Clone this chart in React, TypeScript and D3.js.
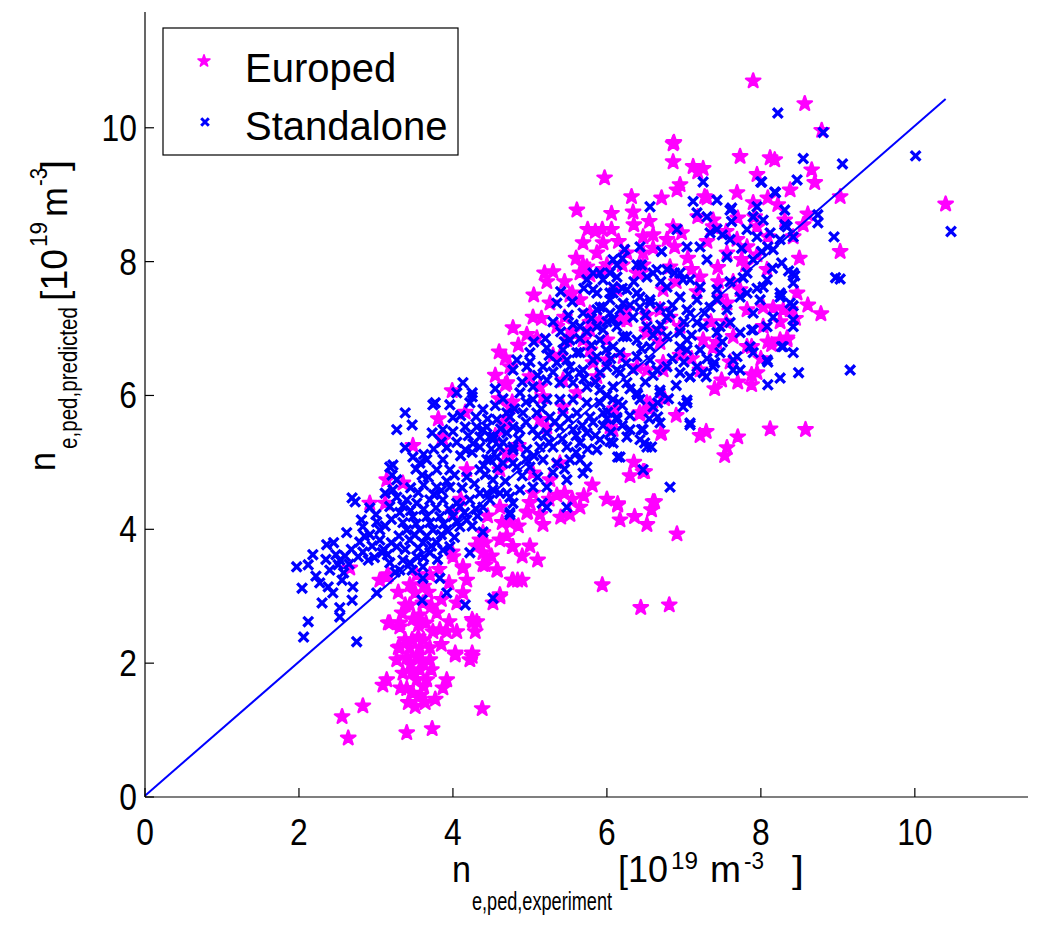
import React from "react";
import * as d3 from "d3";

const europed: [number, number][] = [
  [7.90,10.70],[8.57,10.36],[8.79,9.96],[10.40,8.86],[8.12,9.55],[7.73,9.57],[6.87,9.78],[5.97,9.25],
  [7.49,6.23],[7.88,6.31],[7.88,6.16],[8.12,5.50],[8.58,5.49],[7.70,5.38],[7.56,5.22],[7.53,5.10],[7.21,5.40],[7.29,5.46],[6.70,5.43],[6.56,5.87],[6.42,5.72],[6.04,5.53],[6.47,4.86],[6.14,4.38],[6.17,4.14],[6.36,4.19],[6.52,4.07],[6.58,4.29],[6.62,4.41],[6.91,3.93],[5.94,3.17],[6.44,2.83],[6.81,2.87],
  [2.56,1.20],[2.64,0.88],[2.83,1.36],[3.09,1.67],[3.14,1.75],[3.32,1.63],[3.40,0.96],[3.73,1.02],[4.38,1.32],[3.42,1.41],[3.51,1.35],[3.64,1.41],[3.77,1.46],[3.48,1.55],[3.87,1.63],[3.92,1.75],[3.66,1.75],[3.53,1.75],[3.35,1.85],[3.47,1.87],[3.57,1.90],[3.27,2.05],[3.40,2.08],[3.53,2.10],[3.70,2.05],[3.29,2.23],[3.44,2.23],[3.57,2.23],[3.70,2.23],[4.03,2.12],[4.25,2.10],[4.22,2.05],[3.47,2.35],[3.55,2.39],[3.74,2.47],[3.83,2.50],[3.92,2.47],[4.05,2.47],[4.29,2.47],[4.31,2.62],[4.25,2.65],[3.16,2.60],[3.31,2.54],[3.34,2.75],[3.55,2.57],[3.57,2.72],[3.44,2.87],[3.51,3.05],[3.61,2.90],[3.68,3.06],[3.79,2.75],[4.05,2.90],[4.13,3.05],[4.18,3.24],[4.13,3.42],[4.39,3.47],[4.57,3.39],[4.77,3.24],[4.84,3.24],[4.61,2.99],[4.52,2.90],[3.29,3.06],[3.16,3.32],[3.44,3.17],[3.53,3.32],[3.70,3.32],[3.38,2.87],
  [3.05,3.24],[3.14,3.29],[3.18,2.60],[3.31,2.60],[3.31,2.24],[4.00,3.59],[3.99,3.66],[4.13,3.44],[4.35,3.84],[4.39,3.65],[4.42,3.47],[4.58,3.39],[4.64,4.10],[4.78,3.74],[4.78,3.24],[4.74,4.10],[2.66,3.42],[2.92,4.39],[3.14,4.74],[3.48,5.25],[3.81,5.65],[3.99,6.07],[4.16,5.75],[3.86,5.37],[4.70,6.19],[4.77,5.90],[4.70,5.59],[4.74,5.08],[4.61,4.89],[4.18,4.89],[4.00,4.25],[3.35,4.69],[3.12,4.39],
  [5.19,7.83],[5.22,7.70],[5.69,7.95],[5.78,7.80],[6.00,7.95],[6.39,7.83],[6.47,7.95],[5.52,7.50],[5.65,7.43],[5.26,7.38],[5.04,7.17],[4.78,7.01],[4.96,6.91],[5.09,6.86],[5.35,7.03],[5.48,6.83],[5.69,6.83],[5.78,7.09],[5.91,7.13],[6.17,7.13],[6.26,7.28],[6.52,6.98],[6.69,7.28],[6.82,7.17],[6.95,7.03],[4.68,6.56],[4.74,6.43],[4.68,6.16],[5.00,6.28],[5.13,6.13],[5.43,6.23],[5.87,6.28],[5.17,5.98],[4.74,5.83],[4.65,5.59],[5.22,5.53],[6.08,5.49],[6.43,5.74],[6.56,5.79],[6.52,5.89],[6.71,5.44],[4.70,5.14],[5.04,4.84],[5.26,4.74],[5.39,4.99],[5.04,4.54],[5.35,4.51],[5.45,4.54],[5.81,4.66],[5.65,4.33],[4.97,4.26],[5.52,4.22],[6.14,4.36],[6.60,4.41],[6.49,4.86],[4.61,4.33],
  [6.86,9.76],[8.18,9.52],[6.86,9.49],[7.12,9.42],[7.18,9.34],[7.95,9.30],[8.38,9.07],[6.95,9.15],[6.91,9.07],[7.69,9.03],[8.09,8.95],[8.22,8.85],[7.90,8.88],[7.30,8.95],[6.71,8.95],[6.32,8.97],[5.61,8.77],[6.06,8.72],[6.34,8.74],[7.18,8.67],[7.38,8.62],[7.70,8.65],[7.95,8.52],[5.75,8.48],[5.94,8.48],[6.06,8.48],[5.69,8.28],[5.95,8.28],[6.47,8.37],[6.60,8.40],[6.78,8.33],[6.86,8.52],[6.97,8.43],[7.38,8.52],[8.09,8.37],[6.88,8.22],[5.87,8.13],[6.26,8.13],[6.47,8.13],[5.74,7.92],[5.95,7.88],[6.82,7.92],[7.10,7.88],[7.44,7.91],[7.56,8.13],[7.75,8.03],[8.08,7.88],[5.65,7.83],[6.43,7.83],[7.21,7.77],[5.55,7.53],[6.13,7.58],[6.73,7.58],[7.17,7.55],[7.47,7.47],[7.73,7.58],[5.45,7.17],[5.78,7.23],[6.26,7.13],[6.52,7.20],[7.56,7.38],[7.82,7.28],[8.03,7.32],[8.16,7.31],[8.29,7.28],[8.38,7.28],[8.25,6.83],[8.09,6.80],[7.82,6.73],[7.25,6.83],[7.38,6.71],[6.69,6.98],[5.78,6.98],[6.00,6.83],[5.78,6.68],[6.69,6.79],[7.60,6.50],[7.95,6.34],[6.21,6.58],[6.39,6.43],[6.52,6.38],[6.73,6.38],[7.21,6.38],
  [8.66,9.37],[8.70,9.18],[9.03,8.97],[8.61,8.71],[8.31,8.62],[8.42,8.37],[9.03,8.15],[8.47,7.53],[8.61,7.35],[8.78,7.22],[8.03,7.03],[8.34,6.86],[8.14,6.76],[7.25,9.39],[7.27,8.97],[7.64,7.70],[7.69,8.33],[7.82,8.22],[7.92,8.67],
  [4.96,4.25],[5.13,4.22],[5.17,4.07],[4.39,3.95],[4.42,3.80],[4.61,3.84],[4.77,3.74],[5.10,3.54],[4.90,3.24],[4.61,3.02],[4.26,2.62],[4.25,2.15],[4.03,2.15],
  [3.87,5.34],[6.52,6.94],[6.73,6.49],[6.00,6.53],[7.43,6.79],[7.64,6.88],[8.34,6.83],[7.88,6.73],
  [5.39,6.58],[5.82,6.49],[5.61,6.04],[5.43,5.83],[5.13,5.64],
  [3.40,1.62],[3.58,1.52],[3.62,1.65],[3.72,1.90],[3.45,1.98],[3.60,2.02],[3.38,2.35],[3.62,2.35],[3.85,2.28],[3.95,2.62],[3.65,2.60],[3.48,2.66],[3.72,2.85],[3.85,2.95],[3.95,3.20],[3.82,3.40],[3.62,3.15],
  [5.05,7.50],[5.30,7.85],[5.45,7.70],[5.60,8.05],[5.85,8.45],[6.15,8.30],[6.35,8.55],[6.55,8.60],[6.20,7.95],[6.60,8.20],[6.90,7.70],[7.05,8.05],[7.30,8.30],[7.55,8.45],[7.45,7.70],[7.80,7.95],[7.95,8.10],[6.95,6.60],[7.10,6.55],[5.55,6.95],[5.30,6.60],[5.15,7.15],[4.85,6.75],[4.60,6.65],[4.55,6.30],[4.60,5.95],[4.55,5.40],[4.85,5.25],[5.00,4.40],[5.25,4.45],[5.55,4.45],[5.40,4.18],[5.70,4.50],[6.00,4.45],[6.30,4.80],[6.35,5.00],[6.10,5.80],[6.90,5.70],[6.75,5.95],[7.40,6.10],[7.70,6.20],[8.00,6.55],[7.35,7.10],[7.55,7.10],[8.25,7.10],[8.45,7.15],[8.50,8.05],[8.55,8.55],[4.10,4.45],[4.45,4.20],[4.30,3.75],[4.50,3.60],[4.70,3.90],[4.90,3.60],[5.00,3.75],[4.85,4.05],
];

const standalone: [number, number][] = [
  [1.97,3.44],[2.12,3.47],[2.04,3.12],[2.12,2.62],[2.06,2.39],[2.30,2.90],[2.27,3.20],[2.36,3.77],[2.45,3.80],[2.62,3.95],[2.40,3.39],[2.51,3.47],[2.53,3.54],[2.38,3.14],[2.44,3.05],[2.56,3.24],[2.70,3.14],[2.69,2.94],[2.53,2.83],[2.53,2.69],[2.75,2.32],[2.79,3.81],[2.83,3.66],[2.90,3.54],[3.08,3.65],[2.77,3.59],[2.83,4.04],[2.81,4.14],[2.92,3.92],[3.05,3.84],[2.92,4.32],[3.01,4.11],[2.69,4.47],[2.73,4.41],[3.18,4.34],[3.27,4.48],[3.22,4.59],[3.12,4.54],[3.21,4.81],[3.22,4.96],[3.38,5.74],[3.27,5.49],[3.47,5.56],[3.38,5.22],[3.48,5.08],[3.57,4.99],[3.66,5.04],[3.60,4.81],[3.68,4.78],[3.74,5.86],[3.73,5.44],[3.96,5.86],[4.13,6.19],[4.05,6.04],[4.25,6.04],[4.22,5.89],[4.00,5.67],[3.87,5.49],[4.00,5.46],[4.16,5.53],[4.31,5.53],[4.39,5.49],[4.48,5.38],[4.16,5.19],[4.35,5.23],[3.92,5.22],[3.87,5.04],[3.96,4.89],[3.79,4.89],[3.79,4.63],[3.96,4.63],[4.18,4.78],[4.35,4.89],[4.44,5.04],[4.57,5.08],[4.52,4.74],[4.35,4.54],[4.22,4.44],[4.05,4.39],[3.87,4.44],[3.70,4.44],[3.53,4.39],[3.40,4.44],[3.31,4.25],[3.48,4.19],[3.66,4.19],[3.83,4.19],[4.00,4.19],[4.18,4.14],[4.09,4.04],[3.92,3.99],[3.74,3.99],[3.57,3.99],[3.40,3.99],[3.44,3.84],[3.61,3.80],[3.79,3.80],[3.96,3.74],[3.27,3.74],[3.35,3.54],[3.53,3.59],[3.70,3.65],[3.87,3.69],[3.61,3.44],[3.47,3.39],[3.61,3.27],[3.83,3.27],[3.92,3.05],[3.60,2.94],[4.16,2.87],[4.22,3.65],[4.39,3.96],[4.74,4.22],[4.52,2.97],[4.09,4.34],[4.26,5.28],[4.39,5.79],[4.52,5.34],[4.70,5.74],[4.78,5.53],[4.78,5.23],[4.78,4.99],[4.61,4.54],[4.74,4.48],[4.48,4.44],[3.27,4.74],[3.05,3.99],[3.18,3.50],[3.31,3.39],
  [3.77,5.89],[4.25,5.98],[3.18,4.93],[3.01,3.05],[3.25,3.36],[5.16,4.39],
  [5.82,7.83],[5.91,7.83],[6.13,7.95],[6.60,7.83],[6.78,7.88],[6.95,7.83],[7.08,7.73],[6.08,7.62],[6.26,7.58],[6.43,7.47],[6.56,7.38],[6.04,7.43],[5.87,7.53],[5.69,7.23],[5.87,7.28],[6.17,7.28],[5.35,7.38],[6.08,7.14],[6.34,7.17],[6.78,7.17],[7.04,7.28],[7.17,7.09],[6.65,6.98],[6.78,6.88],[6.95,6.94],[5.30,7.10],[5.56,7.06],[5.74,6.95],[5.95,6.98],[6.21,6.88],[6.39,6.83],[6.56,6.73],[6.95,6.73],[7.04,6.68],[6.78,6.43],[7.17,6.43],[7.08,6.28],[6.65,6.38],[6.56,6.53],[6.39,6.58],[6.17,6.64],[5.99,6.68],[5.87,6.58],[5.61,6.64],[5.43,6.68],[5.22,6.71],[5.00,6.64],[4.83,6.53],[4.78,6.38],[4.96,6.43],[5.17,6.43],[5.35,6.49],[5.52,6.43],[5.69,6.38],[5.91,6.34],[6.13,6.38],[6.34,6.38],[6.26,6.19],[6.08,6.13],[5.91,6.08],[5.74,6.13],[5.56,6.19],[5.39,6.19],[5.22,6.23],[5.04,6.13],[4.87,6.04],[5.04,5.94],[5.22,5.94],[5.39,5.94],[5.56,5.94],[5.74,5.89],[5.91,5.89],[6.08,5.94],[6.39,6.04],[6.43,5.94],[6.69,6.04],[6.60,5.83],[6.69,5.59],[7.04,5.89],[7.08,5.59],[6.30,5.49],[6.47,5.49],[6.13,5.64],[5.95,5.74],[5.78,5.68],[5.61,5.74],[5.43,5.74],[5.26,5.68],[5.09,5.74],[4.91,5.74],[4.74,5.68],[4.57,5.64],[4.44,5.53],[4.52,5.38],[4.70,5.44],[4.87,5.49],[5.04,5.49],[5.22,5.44],[5.39,5.53],[5.56,5.49],[5.74,5.44],[5.91,5.34],[6.08,5.29],[6.26,5.38],[6.43,5.34],[6.52,5.23],[6.17,5.08],[5.87,5.19],[5.65,5.29],[5.65,5.04],[5.48,5.23],[5.30,5.23],[5.13,5.23],[4.96,5.19],[4.78,5.19],[4.61,5.23],[4.48,5.04],[4.65,4.99],[4.83,4.93],[5.00,4.93],[5.17,5.04],[5.35,4.99],[5.52,5.04],[5.74,4.93],[5.69,4.84],[5.48,4.74],[5.22,4.63],[5.04,4.63],[4.87,4.59],[4.70,4.54],[4.52,4.59],[4.44,4.54],[4.39,4.33],[4.78,4.39],[5.22,4.33],[5.48,4.33],[6.47,4.89],[6.82,4.63],[4.74,4.25],
  [7.25,9.19],[8.01,9.19],[8.18,9.04],[8.47,9.22],[6.56,8.82],[7.12,8.90],[7.43,8.92],[7.17,8.73],[7.30,8.67],[7.60,8.77],[7.62,8.60],[7.90,8.67],[8.03,8.62],[8.34,8.52],[6.91,8.48],[7.43,8.48],[7.82,8.48],[6.23,8.18],[6.43,8.22],[6.71,8.15],[7.04,8.22],[7.21,8.22],[7.34,8.43],[7.60,8.33],[7.95,8.37],[8.09,8.22],[8.25,8.33],[8.42,8.37],[6.08,8.03],[6.39,7.95],[6.65,7.88],[6.88,7.83],[7.30,8.03],[7.56,8.07],[7.90,8.03],[8.27,7.98],[8.42,7.83],[8.08,7.73],[7.82,7.83],[5.95,7.73],[6.13,7.77],[6.52,7.77],[6.78,7.62],[6.99,7.73],[7.21,7.62],[7.43,7.58],[7.73,7.47],[8.03,7.62],[8.25,7.53],[8.42,7.68],[5.74,7.73],[6.04,7.53],[6.39,7.53],[6.56,7.43],[6.95,7.47],[7.17,7.43],[7.34,7.32],[7.56,7.28],[7.90,7.23],[8.16,7.17],[8.38,7.38],[5.95,7.32],[6.21,7.38],[6.43,7.32],[6.69,7.32],[6.82,7.23],[7.08,7.23],[7.25,7.03],[7.43,6.94],[7.73,6.94],[7.90,6.98],[8.08,7.03],[8.42,7.13],[6.52,7.03],[6.26,6.88],[7.04,6.83],[7.21,6.68],[7.47,6.64],[7.69,6.58],[7.90,6.64],[8.08,6.53],[8.42,6.64],[7.64,6.38],[7.25,6.34],[6.95,6.34],[7.38,6.43],
  [6.04,7.83],[5.82,7.58],[6.08,7.53],[5.91,7.32],[6.04,7.23],[5.87,7.03],[6.13,7.03],[5.65,7.03],[5.52,6.83],[5.91,6.83],[6.08,6.73],[5.65,6.64],[5.82,6.53],[5.48,6.53],[6.00,6.43],[5.65,6.34],[6.17,6.34],
  [9.16,6.38],[8.49,6.34],[8.25,6.26],[8.09,6.16],[8.09,6.50],[7.73,6.38],[7.64,6.53],[7.40,6.49],[7.29,6.28],[7.08,6.28],[7.04,5.93],[6.99,5.83],[7.08,5.56],[6.69,6.08],[6.66,5.89],[6.66,5.68],[6.40,6.01],[6.45,5.49],[6.49,5.29],[6.58,5.23],[6.13,5.67],[6.01,5.75],[6.04,5.31],[6.14,5.08],[7.86,6.73],[8.27,6.73],
  [8.22,10.22],[8.81,9.93],[8.55,9.54],[9.06,9.46],[10.01,9.58],[8.00,9.19],[8.19,9.03],[8.31,8.55],[8.74,8.70],[8.74,8.58],[8.95,8.37],[8.97,7.76],[9.03,7.74],[8.36,7.86],[8.44,7.79],[8.27,7.49],[8.42,7.34],[8.42,7.03],[8.29,6.73],
  [10.47,8.45],[8.16,8.18],[7.77,7.76],[8.01,8.15],[8.12,8.43],[8.31,8.77],[7.95,8.82],[7.62,8.80],[7.99,7.43],[8.25,7.47],[7.82,7.53],[7.60,7.09],[7.43,7.43],[7.27,7.23],[7.47,7.03],[7.88,6.98],
  [3.45,4.62],[3.55,4.55],[3.62,4.66],[3.75,4.52],[3.85,4.58],[3.92,4.72],[4.02,4.81],[4.12,4.62],[4.28,4.68],[4.42,4.82],[4.58,4.92],[4.68,4.72],[4.30,4.30],[4.15,4.25],[3.95,4.30],[3.78,4.32],[3.62,4.30],[3.45,4.28],[3.35,4.10],[3.52,4.08],[3.70,4.10],[3.88,4.08],[4.05,4.12],[4.25,4.05],[4.32,4.20],[3.30,3.90],[3.50,3.92],[3.66,3.90],[3.85,3.92],[4.02,3.88],[3.20,3.80],[3.38,3.70],[3.55,3.72],[3.72,3.75],[3.10,3.70],[2.98,3.58],[3.15,3.62],[3.44,3.50],[3.62,3.58],[3.80,3.55],[2.95,3.75],[2.85,3.90],[3.00,4.22],[3.12,4.05],[3.20,4.15],[3.35,4.35],[2.60,3.60],[2.68,3.70],[2.48,3.62],[2.58,3.35],[2.65,3.48],[2.35,3.55],[2.22,3.30],[2.18,3.62],
  [3.52,4.90],[3.62,5.12],[3.75,5.20],[3.85,5.30],[4.05,5.30],[4.10,5.10],[4.25,5.15],[4.35,5.38],[4.20,5.40],[4.10,5.70],[4.30,5.68],[4.45,5.65],[4.55,5.85],[4.62,5.50],[4.40,4.95],[4.50,5.20],[4.65,5.30],[4.85,5.35],[4.95,5.05],[5.05,5.10],[4.90,4.80],[5.10,4.78],[5.30,4.85],[5.45,4.90],[5.60,5.15],[5.75,5.20],[5.85,5.40],[5.95,5.55],[6.05,5.45],[6.20,5.55],[6.30,5.70],[6.20,5.85],[6.00,6.00],[5.85,6.20],[5.70,6.25],[5.50,6.32],[5.30,6.35],[5.10,6.30],[5.00,6.50],[5.25,6.60],[5.45,6.80],[5.65,6.85],[5.80,6.75],[6.05,6.55],[6.25,6.48],[6.45,6.70],[6.60,6.90],[6.70,7.05],[6.50,7.20],[6.30,7.35],[6.00,7.10],[5.80,7.15],[5.50,7.20],[5.40,6.95],[5.20,6.85],[5.05,6.80],[4.90,6.20],[4.95,5.90],[5.15,5.80],[5.32,5.60],[5.50,5.65],[5.68,5.55],[5.82,5.60],[6.00,5.65],[6.15,5.90],[6.30,6.10],[6.50,6.20],[6.60,6.30],[6.85,6.55],[6.90,6.15],[6.80,5.95],[6.55,5.65],[5.60,5.40],[5.42,5.35],[5.25,5.30],[5.10,5.40],[4.95,5.60],[4.80,5.80],[4.65,5.95],[4.55,6.10],[6.20,7.60],[6.35,7.70],[6.70,7.70],[6.85,7.35],[7.00,7.10],[7.10,6.90],[7.30,6.55],[7.50,6.80],[7.00,6.50],[6.45,7.95],[6.20,8.05],[5.70,7.60],[5.55,7.40],[5.40,7.55],[7.60,7.70],[7.75,8.20],[7.50,8.40],[7.95,7.60],[8.15,7.90],
];

const fitLine: [number, number][] = [[0, 0.02], [10.4, 10.43]];

const xTicks = [0, 2, 4, 6, 8, 10];
const yTicks = [0, 2, 4, 6, 8, 10];
const legendLabels = ["Europed", "Standalone"];

const MAGENTA = "#ff00ff";
const BLUE = "#0000ff";
const FONT = "'Liberation Sans', Arial, Helvetica, sans-serif";

export default function App() {
  const x = d3.scaleLinear().domain([0, 11.47]).range([145, 1028]);
  const y = d3.scaleLinear().domain([0, 11.73]).range([797, 12]);
  const star = d3.symbol(d3.symbolStar, 64)() as string;
  const legendStar = d3.symbol(d3.symbolStar, 44)() as string;
  const cross = "M-4.8,-4.8L4.8,4.8M-4.8,4.8L4.8,-4.8";
  const line = d3.line<[number, number]>().x((d) => x(d[0])).y((d) => y(d[1]));
  const tick = 9;

  return (
    <svg width={1041} height={928} style={{ position: "absolute", left: 0, top: 0, background: "#fff" }} fontFamily={FONT}>
      <rect width={1041} height={928} fill="#fff" />
      <g>
        {europed.map((d, i) => (
          <path key={"e" + i} d={star} transform={`translate(${x(d[0])},${y(d[1])})`} fill={MAGENTA} stroke={MAGENTA} strokeWidth={2.4} strokeLinejoin="round" />
        ))}
      </g>
      <g>
        {standalone.map((d, i) => (
          <path key={"s" + i} d={cross} transform={`translate(${x(d[0])},${y(d[1])})`} fill="none" stroke={BLUE} strokeWidth={3.3} />
        ))}
      </g>
      <path d={line(fitLine) as string} fill="none" stroke={BLUE} strokeWidth={2} />
      {/* axes */}
      <line x1={x(0)} x2={x(0)} y1={y(11.73)} y2={y(0)} stroke="#000" strokeWidth={1.2} />
      <line x1={x(0)} x2={x(11.47)} y1={y(0)} y2={y(0)} stroke="#000" strokeWidth={1.2} />
      {xTicks.map((t) => (
        <g key={"xt" + t}>
          <line x1={x(t)} x2={x(t)} y1={y(0)} y2={y(0) - tick} stroke="#000" strokeWidth={1.2} />
          <text transform={`translate(${x(t)},845) scale(0.86,1)`} fontSize={37} textAnchor="middle">{t}</text>
        </g>
      ))}
      {yTicks.map((t) => (
        <g key={"yt" + t}>
          <line x1={x(0)} x2={x(0) + tick} y1={y(t)} y2={y(t)} stroke="#000" strokeWidth={1.2} />
          <text transform={`translate(137,${y(t) + 13}) scale(0.86,1)`} fontSize={37} textAnchor="end">{t}</text>
        </g>
      ))}
      {/* x label */}
      <g fontSize={36}>
        <text x={452} y={882} textLength={19} lengthAdjust="spacingAndGlyphs">n</text>
        <text x={472} y={910} fontSize={26} textLength={140} lengthAdjust="spacingAndGlyphs">e,ped,experiment</text>
        <text x={618} y={882} textLength={50} lengthAdjust="spacingAndGlyphs">[10</text>
        <text x={671} y={869} fontSize={24} textLength={27} lengthAdjust="spacingAndGlyphs">19</text>
        <text x={710} y={882} textLength={31} lengthAdjust="spacingAndGlyphs">m</text>
        <text x={744} y={869} fontSize={24} textLength={20} lengthAdjust="spacingAndGlyphs">-3</text>
        <text x={792} y={882} textLength={12} lengthAdjust="spacingAndGlyphs">]</text>
      </g>
      {/* y label */}
      <g fontSize={36} transform="translate(55,471) rotate(-90)">
        <text x={0} y={0} textLength={19} lengthAdjust="spacingAndGlyphs">n</text>
        <text x={22} y={22} fontSize={26} textLength={142} lengthAdjust="spacingAndGlyphs">e,ped,predicted</text>
        <text x={170} y={12} textLength={52} lengthAdjust="spacingAndGlyphs">[10</text>
        <text x={224} y={-8} fontSize={24} textLength={25} lengthAdjust="spacingAndGlyphs">19</text>
        <text x={254} y={12} textLength={30} lengthAdjust="spacingAndGlyphs">m</text>
        <text x={285} y={-8} fontSize={24} textLength={18} lengthAdjust="spacingAndGlyphs">-3</text>
        <text x={300} y={12} textLength={11} lengthAdjust="spacingAndGlyphs">]</text>
      </g>
      {/* legend */}
      <rect x={163} y={28} width={295} height={127} fill="#fff" stroke="#000" strokeWidth={1.2} />
      <path d={legendStar} transform="translate(204,61)" fill={MAGENTA} stroke={MAGENTA} strokeWidth={1.6} strokeLinejoin="round" />
      <path d="M-3.8,-3.8L3.8,3.8M-3.8,3.8L3.8,-3.8" transform="translate(205,122)" fill="none" stroke={BLUE} strokeWidth={3} />
      <text x={245} y={82} fontSize={40}>{legendLabels[0]}</text>
      <text x={245} y={140} fontSize={40}>{legendLabels[1]}</text>
    </svg>
  );
}
